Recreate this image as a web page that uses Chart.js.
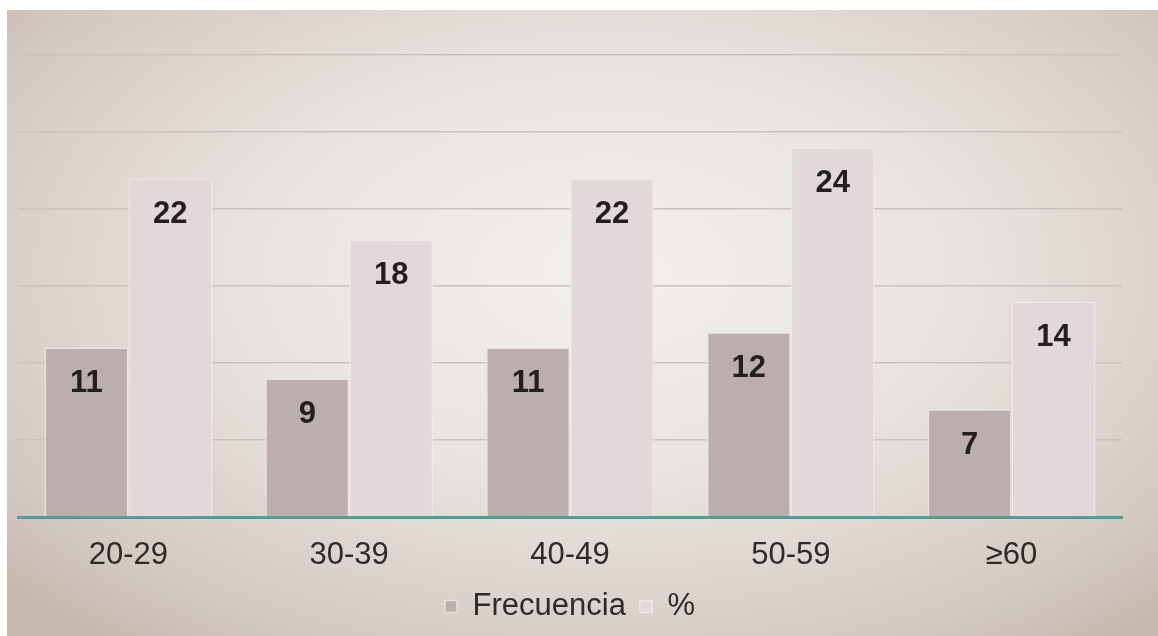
<!DOCTYPE html>
<html lang="es">
<head>
    <meta charset="UTF-8">
    <title>Frecuencia por edad</title>
    <style>
        body {
            margin: 0;
            background-color: #fff;
            font-family: 'Liberation Sans', Arial, sans-serif;
        }

        #chart-container {
            position: absolute;
            left: 7px;
            top: 10px;
            width: 1151px;
            height: 626px;
            background: radial-gradient(ellipse 70% 75% at 52% 42%, #f2f0ed 0%, #e8e3df 45%, #d3c9c2 85%, #c7b8af 100%);
        }

        canvas {
            display: block;
        }
    </style>
    <script src="https://cdn.jsdelivr.net/npm/chart.js"></script>
</head>
<body>
<div id="chart-container">
    <canvas id="edadChart" width="1151" height="626"></canvas>
</div>

<script>
    // datos
    var categorias = ["20-29", "30-39", "40-49", "50-59", "\u226560"];
    var frecuencia = [11, 9, 11, 12, 7];
    var porcentaje = [22, 18, 22, 24, 14];
    var yTicks = [0, 5, 10, 15, 20, 25, 30];

    var fuente = "'Liberation Sans', Arial, sans-serif";

    // etiquetas dentro de la barra, arriba
    var valueLabels = {
        id: "valueLabels",
        afterDatasetsDraw: function (chart) {
            var ctx = chart.ctx;
            ctx.save();
            ctx.font = "bold 31px " + fuente;
            ctx.fillStyle = "#231f20";
            ctx.textAlign = "center";
            ctx.textBaseline = "middle";
            chart.data.datasets.forEach(function (ds, i) {
                chart.getDatasetMeta(i).data.forEach(function (bar, j) {
                    ctx.fillText(ds.data[j], bar.x, bar.y + 36);
                });
            });
            ctx.restore();
        }
    };

    var ctx = document.getElementById("edadChart").getContext("2d");
    var myChart = new Chart(ctx, {
        type: "bar",
        data: {
            labels: categorias,
            datasets: [
                {
                    label: "Frecuencia",
                    data: frecuencia,
                    backgroundColor: "#bcaeac",
                    borderColor: "rgba(236,228,227,0.9)",
                    borderWidth: 1.5,
                    categoryPercentage: 0.76,
                    barPercentage: 1.0
                },
                {
                    label: "%",
                    data: porcentaje,
                    backgroundColor: "#e3d8d9",
                    borderColor: "rgba(240,234,233,0.9)",
                    borderWidth: 1.5,
                    categoryPercentage: 0.76,
                    barPercentage: 1.0
                }
            ]
        },
        options: {
            responsive: false,
            animation: false,
            layout: {
                padding: { left: 11, right: 36, top: 45, bottom: 4 }
            },
            plugins: {
                tooltip: { enabled: false },
                legend: {
                    position: "bottom",
                    labels: {
                        boxWidth: 12,
                        boxHeight: 12,
                        padding: 14,
                        color: "#2b2b2b",
                        font: { family: fuente, size: 31 }
                    }
                }
            },
            scales: {
                x: {
                    grid: { display: false, drawTicks: false },
                    border: { display: true, color: "#4f9e94", width: 3 },
                    ticks: {
                        padding: 20,
                        color: "#2b2b2b",
                        font: { family: fuente, size: 31 }
                    },
                    afterFit: function (scale) {
                        scale.height = 60;
                    }
                },
                y: {
                    min: 0,
                    max: 30,
                    afterBuildTicks: function (axis) {
                        axis.ticks = yTicks.map(function (v) { return { value: v }; });
                    },
                    grid: { color: "#c9c2be", lineWidth: 1.5, drawTicks: false },
                    border: { display: false },
                    ticks: { display: false }
                }
            }
        },
        plugins: [valueLabels]
    });
</script>
</body>
</html>
